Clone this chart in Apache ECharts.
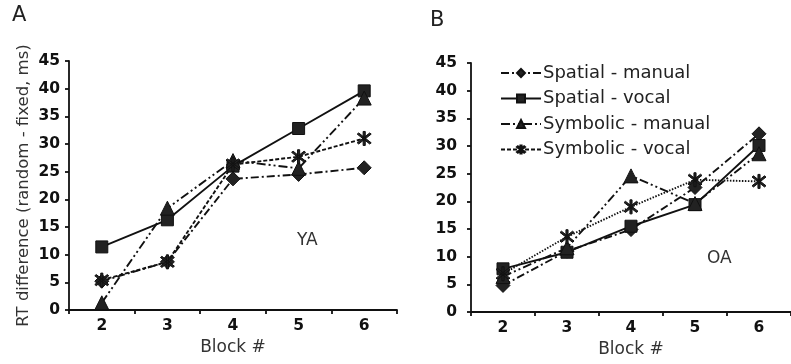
<!DOCTYPE html>
<html>
<head>
<meta charset="utf-8">
<script src="https://cdn.jsdelivr.net/npm/echarts@6/dist/echarts.min.js"></script>
<style>
  html,body{margin:0;padding:0;background:#fff}
  #chart{width:791px;height:364px}
</style>
</head>
<body>
<div id="chart"></div>
<script>
// block numbers on the x axis
var blocks = ['2', '3', '4', '5', '6'];
var seriesNames = ['Spatial - manual', 'Spatial - vocal', 'Symbolic - manual', 'Symbolic - vocal'];

// panel A (YA)
var yaSpatialManual  = [5.2, 8.7, 23.7, 24.5, 25.7];
var yaSpatialVocal   = [11.4, 16.3, 26.0, 32.8, 39.6];
var yaSymbolicManual = [1.3, 18.4, 27.0, 25.6, 38.3];
var yaSymbolicVocal  = [5.4, 8.7, 26.3, 27.7, 31.0];

// panel B (OA)
var oaSpatialManual  = [4.8, 11.0, 14.9, 22.5, 32.2];
var oaSpatialVocal   = [7.8, 10.8, 15.5, 19.4, 30.1];
var oaSymbolicManual = [6.4, 11.6, 24.6, 19.6, 28.6];
var oaSymbolicVocal  = [6.9, 13.6, 19.0, 23.9, 23.6];

var FONT = 'DejaVu Sans';
var INK = '#111';

// asterisk marker: vertical bar plus two diagonals
var starPath = 'path://M-1.2,-10L1.2,-10L1.2,10L-1.2,10Z' +
  'M6.22,7.92L-7.92,-6.22L-6.22,-7.92L7.92,6.22Z' +
  'M7.92,-6.22L-6.22,7.92L-7.92,6.22L6.22,-7.92Z';

var styles = [
  { symbol: 'diamond', size: 14, dash: [8, 3, 2, 3] },
  { symbol: 'rect', size: 12, dash: 'solid' },
  { symbol: 'triangle', size: 14, dash: [9, 3, 2, 3, 2, 3] },
  { symbol: starPath, size: 14, dash: [4, 2] }
];

function mkSeries(name, data, idx, st, dashOverride){
  return {
    name: name, type: 'line', data: data,
    xAxisIndex: idx, yAxisIndex: idx,
    symbol: st.symbol, symbolSize: st.size,
    itemStyle: { color: '#222', borderColor: INK, borderWidth: 1 },
    lineStyle: { color: INK, width: 1.9, type: dashOverride || st.dash },
    animation: false
  };
}

function xAxis(idx){
  return {
    gridIndex: idx, type: 'category', data: blocks, boundaryGap: true,
    name: 'Block #', nameLocation: 'middle', nameGap: 29,
    nameTextStyle: { fontFamily: FONT, fontSize: 17, color: '#333' },
    axisLine: { lineStyle: { color: INK, width: 1.8 } },
    axisTick: { show: true, length: 4, alignWithLabel: false, lineStyle: { color: INK, width: 1.8 } },
    axisLabel: { margin: 8, fontFamily: FONT, fontSize: 15.5, fontWeight: 'bold', color: INK },
    splitLine: { show: false }
  };
}

function yAxis(idx, withName, labelMargin){
  var a = {
    gridIndex: idx, type: 'value', min: 0, max: 45, interval: 5,
    axisLine: { show: true, lineStyle: { color: INK, width: 1.8 } },
    axisTick: { show: true, length: 4, lineStyle: { color: INK, width: 1.8 } },
    axisLabel: { margin: labelMargin, fontFamily: FONT, fontSize: 15.5, fontWeight: 'bold', color: INK },
    splitLine: { show: false }
  };
  if(withName){
    a.name = 'RT difference (random - fixed, ms)';
    a.nameLocation = 'middle';
    a.nameGap = 37;
    a.nameTextStyle = { fontFamily: FONT, fontSize: 16.5, color: '#333' };
  }
  return a;
}

var series = [
  mkSeries(seriesNames[0], yaSpatialManual, 0, styles[0]),
  mkSeries(seriesNames[1], yaSpatialVocal, 0, styles[1]),
  mkSeries(seriesNames[2], yaSymbolicManual, 0, styles[2]),
  mkSeries(seriesNames[3], yaSymbolicVocal, 0, styles[3]),
  mkSeries(seriesNames[0], oaSpatialManual, 1, styles[0]),
  mkSeries(seriesNames[1], oaSpatialVocal, 1, styles[1]),
  mkSeries(seriesNames[2], oaSymbolicManual, 1, styles[2]),
  mkSeries(seriesNames[3], oaSymbolicVocal, 1, styles[3], [1.5, 1.5])
];

var chart = echarts.init(document.getElementById('chart'), null, { renderer: 'canvas' });
chart.setOption({
  backgroundColor: '#fff',
  animation: false,
  grid: [
    { left: 69, top: 61, width: 328, height: 249 },
    { left: 471, top: 63, width: 328, height: 249 }
  ],
  xAxis: [xAxis(0), xAxis(1)],
  yAxis: [yAxis(0, true, 9), yAxis(1, false, 14)],
  legend: {
    orient: 'vertical', left: 500, top: 64, itemGap: 7.5, padding: 0,
    itemWidth: 40, itemHeight: 10,
    data: seriesNames,
    textStyle: { fontFamily: FONT, fontSize: 18, color: '#222', padding: [0, 0, 0, -3] }
  },
  graphic: [
    { type: 'text', left: 12, top: 5, style: { text: 'A', font: '21px ' + FONT, fill: '#222' } },
    { type: 'text', left: 430, top: 10, style: { text: 'B', font: '21px ' + FONT, fill: '#222' } },
    { type: 'text', left: 297, top: 232, style: { text: 'YA', font: '17px ' + FONT, fill: '#333' } },
    { type: 'text', left: 707, top: 250, style: { text: 'OA', font: '17px ' + FONT, fill: '#333' } }
  ],
  series: series
});
</script>
</body>
</html>
